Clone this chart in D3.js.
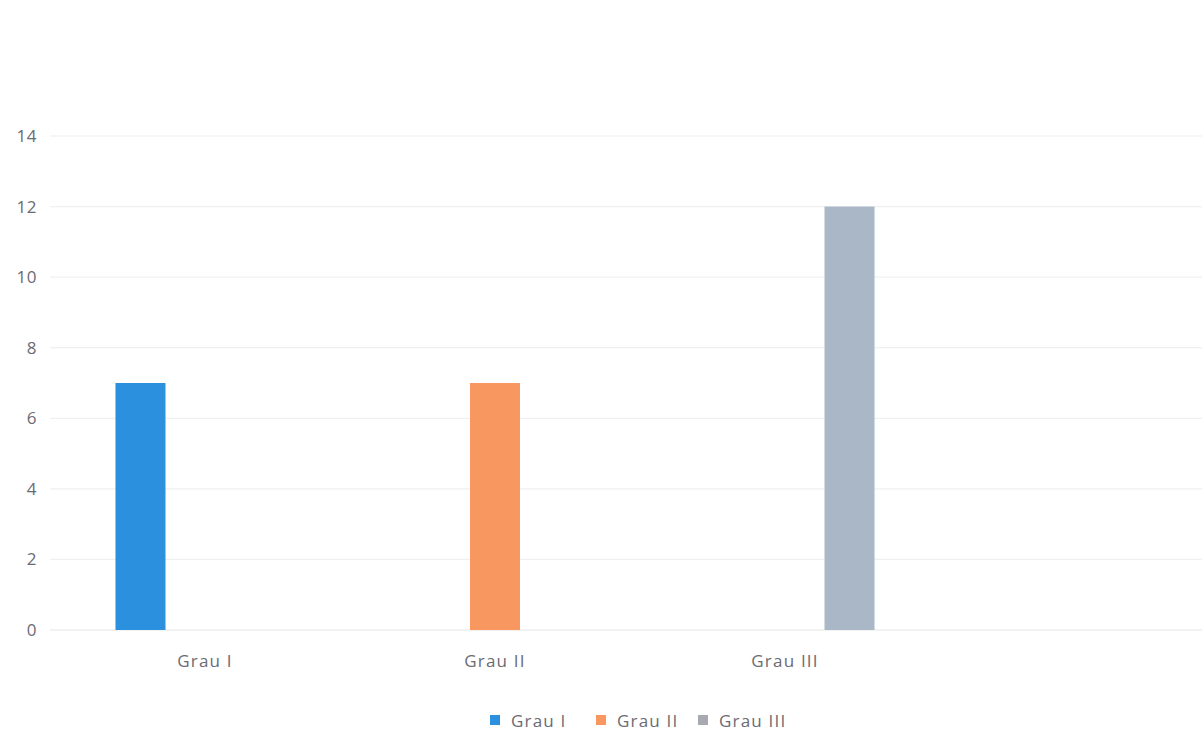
<!DOCTYPE html>
<html>
<head>
<meta charset="utf-8">
<script src="https://cdn.jsdelivr.net/npm/d3@7"></script>
<style>
  html, body { margin: 0; padding: 0; background: #ffffff; }
  svg { display: block; }
  text { font-family: "Open Sans", sans-serif; fill: #6b6b73; }
</style>
</head>
<body>
<svg id="chart" width="1202" height="750"></svg>
<script>
const categories = ["Grau I", "Grau II", "Grau III"];
const seriesNames = ["Grau I", "Grau II", "Grau III"];
const seriesValues = [
  [7, 0, 0],   // Grau I
  [0, 7, 0],   // Grau II
  [0, 0, 12]   // Grau III
];
const yTicks = [0, 2, 4, 6, 8, 10, 12, 14];
const colors = ["#2b90de", "#f8975f", "#a9b7c7"];
const legendColors = ["#2b90de", "#f8975f", "#a6aab0"];

const svg = d3.select("#chart");
const W = 1202, H = 750;
const plot = { left: 60, right: 930, top: 136, bottom: 630 };

const y = d3.scaleLinear().domain([0, 14]).range([plot.bottom, plot.top]);
const x0 = d3.scaleBand().domain(categories).range([plot.left, plot.right]).padding(0);
const x1 = d3.scaleBand().domain(seriesNames).range([0, x0.bandwidth()])
  .paddingInner(0.225).paddingOuter(0.86);

// gridlines
svg.append("g")
  .selectAll("line")
  .data(yTicks)
  .join("line")
  .attr("x1", 50).attr("x2", W)
  .attr("y1", d => y(d)).attr("y2", d => y(d))
  .attr("stroke", d => d === 0 ? "#e6e6e6" : "#f0f0f0")
  .attr("stroke-width", 1.2);

// y axis labels
const yAxis = d3.axisLeft(y).tickValues(yTicks).tickSize(0).tickPadding(0);
const yg = svg.append("g").attr("transform", "translate(37,0)").call(yAxis);
yg.select(".domain").remove();
yg.selectAll("text")
  .attr("font-size", 17)
  .style("font-family", "'Open Sans', sans-serif")
  .attr("fill", "#6b6b73")
  .attr("letter-spacing", 0.5);

// bars
const groups = svg.append("g")
  .selectAll("g")
  .data(categories)
  .join("g")
  .attr("transform", d => `translate(${x0(d)},0)`);

groups.selectAll("rect")
  .data((c, ci) => seriesNames.map((s, si) => ({ s, si, v: seriesValues[si][ci] })))
  .join("rect")
  .filter(d => d.v > 0)
  .attr("x", d => x1(d.s))
  .attr("width", x1.bandwidth())
  .attr("y", d => y(d.v))
  .attr("height", d => y(0) - y(d.v))
  .attr("fill", d => colors[d.si]);

// x axis labels
const xAxis = d3.axisBottom(x0).tickSize(0).tickPadding(0);
const xg = svg.append("g").attr("transform", `translate(0,${plot.bottom + 25})`).call(xAxis);
xg.select(".domain").remove();
xg.selectAll("text")
  .attr("font-size", 17)
  .style("font-family", "'Open Sans', sans-serif")
  .attr("fill", "#6b6b73")
  .attr("letter-spacing", 1.2);

// legend
const legendX = [490, 596, 698];
const leg = svg.append("g").selectAll("g")
  .data(seriesNames)
  .join("g")
  .attr("transform", (d, i) => `translate(${legendX[i]},715)`);
leg.append("rect")
  .attr("width", 10).attr("height", 10)
  .attr("fill", (d, i) => legendColors[i]);
leg.append("text")
  .attr("x", 21).attr("y", 11.5)
  .attr("font-size", 17)
  .attr("letter-spacing", 1.2)
  .text(d => d);
</script>
</body>
</html>
